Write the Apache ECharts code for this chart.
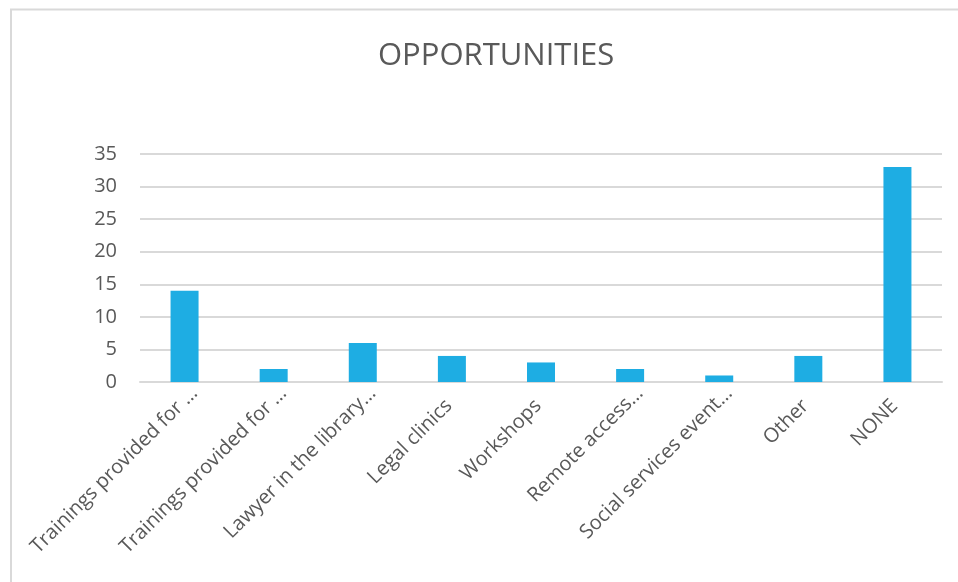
<!DOCTYPE html>
<html>
<head>
<meta charset="utf-8">
<title>OPPORTUNITIES</title>
<script src="https://cdn.jsdelivr.net/npm/echarts@6/dist/echarts.min.js"></script>
<style>
  html, body { margin: 0; padding: 0; background: #ffffff; }
  #chart { width: 958px; height: 582px; }
</style>
</head>
<body>
<div id="chart"></div>
<script>
// Survey answers: which opportunities are offered
const categories = [
  'Trainings provided for …',
  'Trainings provided for …',
  'Lawyer in the library…',
  'Legal clinics',
  'Workshops',
  'Remote access…',
  'Social services event…',
  'Other',
  'NONE'
];
const counts = [14, 2, 6, 4, 3, 2, 1, 4, 33];
const yTicks = { min: 0, max: 35, interval: 5 };

const textColor = '#595959';
const gridColor = '#d9d9d9';
const font = 'Open Sans';

// shortened labels reach a little further along the diagonal
const categoryData = categories.map(function (name) {
  const truncated = name.endsWith('…');
  return {
    value: name,
    textStyle: { padding: truncated ? [0, -14, 0, 0] : [0, 4, 0, 0] }
  };
});

const chart = echarts.init(document.getElementById('chart'), null, { renderer: 'canvas' });
chart.setOption({
  backgroundColor: '#ffffff',
  animation: false,
  title: {
    text: 'OPPORTUNITIES',
    left: 373,
    top: 36,
    textStyle: { fontFamily: font, fontSize: 31, fontWeight: 'normal', color: textColor }
  },
  graphic: [{
    type: 'rect',
    shape: { x: 11, y: 9.5, width: 1000, height: 700 },
    style: { fill: 'none', stroke: gridColor, lineWidth: 2 },
    silent: true
  }],
  grid: { left: 140, right: 16, top: 154, bottom: 200, containLabel: false },
  xAxis: {
    type: 'category',
    data: categoryData,
    axisTick: { show: false },
    axisLine: { lineStyle: { color: gridColor, width: 2 } },
    axisLabel: {
      interval: 0,
      rotate: 45,
      margin: 18,
      align: 'right',
      verticalAlign: 'top',
      fontFamily: font,
      fontSize: 20,
      color: textColor
    }
  },
  yAxis: {
    type: 'value',
    min: yTicks.min,
    max: yTicks.max,
    interval: yTicks.interval,
    axisLine: { show: false },
    axisTick: { show: false },
    splitLine: { lineStyle: { color: gridColor, width: 2 } },
    axisLabel: { margin: 23, fontFamily: font, fontSize: 20, color: textColor }
  },
  series: [{
    type: 'bar',
    data: counts,
    barWidth: 28,
    itemStyle: { color: '#1eade3' }
  }]
});
</script>
</body>
</html>
